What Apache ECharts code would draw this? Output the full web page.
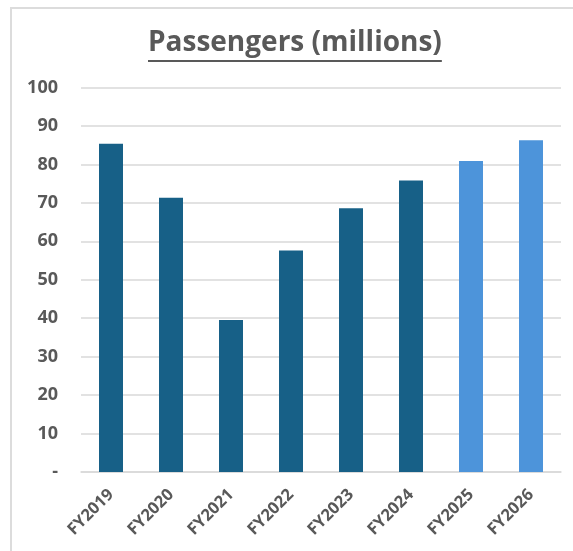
<!DOCTYPE html>
<html>
<head>
<meta charset="utf-8">
<script src="https://cdn.jsdelivr.net/npm/echarts@6/dist/echarts.min.js"></script>
<style>html,body{margin:0;padding:0;background:#fff;}#c{width:573px;height:551px;}</style>
</head>
<body>
<div id="c"></div>
<script>
const categories = ['FY2019','FY2020','FY2021','FY2022','FY2023','FY2024','FY2025','FY2026'];
const passengers = [85.4, 71.3, 39.5, 57.6, 68.6, 75.8, 80.9, 86.3];
const barColors = ['#176087','#176087','#176087','#176087','#176087','#176087','#4D94DA','#4D94DA'];
const titleText = 'Passengers (millions)';
const yTicks = [0,10,20,30,40,50,60,70,80,90,100];

const chart = echarts.init(document.getElementById('c'), null, {renderer:'canvas'});
const font = '"Open Sans", "Liberation Sans", sans-serif';
const frame = {type:'rect',shape:{x:11,y:8,width:600,height:600},style:{fill:'none',stroke:'#dcdcdc',lineWidth:2},silent:true};
chart.setOption({
  animation:false,
  backgroundColor:'#fff',
  title:{
    text:titleText,
    left:148,
    top:29,
    padding:0,
    textStyle:{fontFamily:font,fontWeight:'bold',fontSize:28,color:'#595959'}
  },
  grid:{left:81,right:12,top:87.5,bottom:79,containLabel:false},
  xAxis:{
    type:'category',
    data:categories,
    axisLine:{lineStyle:{color:'#d9d9d9',width:1.5}},
    axisTick:{show:false},
    axisLabel:{rotate:45,interval:0,margin:20,fontFamily:font,fontWeight:'bold',fontSize:16.5,color:'#595959'}
  },
  yAxis:{
    type:'value',
    min:yTicks[0],max:yTicks[yTicks.length-1],interval:10,
    axisLine:{show:false},
    axisTick:{show:false},
    splitLine:{lineStyle:{color:'#d9d9d9',width:1.5}},
    axisLabel:{margin:23,fontFamily:font,fontWeight:'bold',fontSize:18,color:'#595959',
      formatter:v=> v===0 ? '-' : String(v)}
  },
  series:[{
    type:'bar',
    barWidth:24,
    data:passengers.map((v,i)=>({value:v,itemStyle:{color:barColors[i]}}))
  }],
  graphic:[frame]
});
(function(){
  const m = chart.getModel().getComponent('title');
  const view = chart.getViewOfComponentModel(m);
  const rect = view.group.getBoundingRect();
  const g = view.group;
  const x0 = g.x + rect.x, w = rect.width, y = g.y + rect.y + rect.height + 4;
  chart.setOption({graphic:[
    frame,
    {type:'line',shape:{x1:x0,y1:y,x2:x0+w,y2:y},style:{stroke:'#595959',lineWidth:2},silent:true}
  ]});
})();
</script>
</body>
</html>
